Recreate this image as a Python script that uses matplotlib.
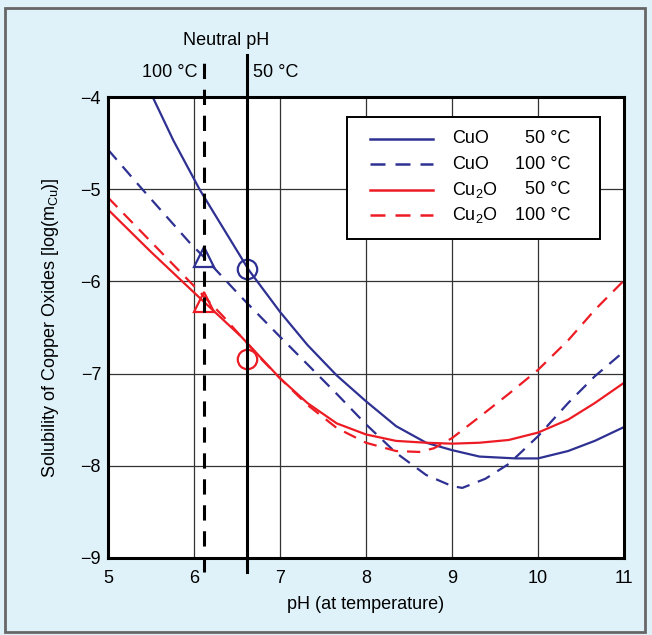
import matplotlib.pyplot as plt
from matplotlib.patches import Rectangle

plt.rcParams['font.family'] = ['Liberation Sans', 'DejaVu Sans']
plt.rcParams['mathtext.fontset'] = 'custom'
plt.rcParams['mathtext.rm'] = 'Liberation Sans'
plt.rcParams['mathtext.it'] = 'Liberation Sans:italic'

# solubility curves, log(m_Cu) vs pH at temperature
cuo_50_ph = [5.52, 5.76, 6.07, 6.64, 7.0, 7.32, 7.66, 8.0, 8.35, 8.7, 9.0, 9.32, 9.74, 10.0, 10.35, 10.66, 11.0]
cuo_50_log = [-4.00, -4.47, -5.01, -5.88, -6.33, -6.69, -7.02, -7.30, -7.57, -7.75, -7.83, -7.90, -7.92, -7.92, -7.84, -7.73, -7.58]

cuo_100_ph = [5.0, 5.38, 5.95, 6.12, 6.55, 7.0, 7.32, 7.66, 8.0, 8.35, 8.7, 9.0, 9.12, 9.39, 9.66, 10.0, 10.35, 10.66, 11.0]
cuo_100_log = [-4.57, -4.98, -5.58, -5.74, -6.17, -6.60, -6.90, -7.22, -7.55, -7.86, -8.10, -8.22, -8.24, -8.14, -7.98, -7.68, -7.32, -7.03, -6.76]

cu2o_50_ph = [5.0, 5.5, 6.0, 6.55, 7.0, 7.32, 7.66, 8.0, 8.35, 8.7, 9.0, 9.32, 9.66, 10.0, 10.35, 10.66, 11.0]
cu2o_50_log = [-5.22, -5.68, -6.12, -6.60, -7.05, -7.32, -7.54, -7.66, -7.73, -7.75, -7.76, -7.75, -7.72, -7.64, -7.50, -7.32, -7.10]

cu2o_100_ph = [5.0, 5.5, 6.0, 6.34, 6.78, 7.0, 7.32, 7.66, 8.0, 8.35, 8.62, 8.79, 9.0, 9.32, 9.66, 10.0, 10.35, 10.66, 11.0]
cu2o_100_log = [-5.09, -5.57, -6.05, -6.38, -6.84, -7.05, -7.34, -7.59, -7.75, -7.84, -7.85, -7.81, -7.70, -7.47, -7.22, -6.96, -6.64, -6.31, -5.99]

# neutral pH
neutral_100 = 6.12
neutral_50 = 6.62

# marked points at neutral pH
tri_ph = [6.12, 6.12]
tri_log = [-5.73, -6.22]
circ_ph = [6.62, 6.62]
circ_log = [-5.87, -6.84]

blue = '#2E3192'
red = '#ED1C24'
bg = '#DFF1F9'

fig = plt.figure(figsize=(6.52, 6.35), dpi=100, facecolor=bg)
fig.patches.append(Rectangle((0.008, 0.004), 0.982, 0.984, transform=fig.transFigure,
                             fill=False, edgecolor='#666666', linewidth=2))
ax = fig.add_axes([0.1656, 0.1213, 0.7914, 0.7259])
ax.set_facecolor('white')

ax.plot(cuo_50_ph, cuo_50_log, color=blue, lw=1.6)
ax.plot(cuo_100_ph, cuo_100_log, color=blue, lw=1.6, dashes=(6, 4))
ax.plot(cu2o_50_ph, cu2o_50_log, color=red, lw=1.6)
ax.plot(cu2o_100_ph, cu2o_100_log, color=red, lw=1.6, dashes=(6, 4))

ax.plot(tri_ph[0], tri_log[0], marker='^', ms=15, mfc='none', mec=blue, mew=1.6)
ax.plot(tri_ph[1], tri_log[1], marker='^', ms=15, mfc='none', mec=red, mew=1.6)
ax.plot(circ_ph[0], circ_log[0], marker='o', ms=14, mfc='none', mec=blue, mew=1.6)
ax.plot(circ_ph[1], circ_log[1], marker='o', ms=14, mfc='none', mec=red, mew=1.6)

ax.axvline(neutral_100, ymin=-0.03, ymax=1.091, color='black', lw=2.2, dashes=(5, 3.5), clip_on=False)
ax.axvline(neutral_50, ymin=-0.03, ymax=1.091, color='black', lw=2.2, clip_on=False)

ax.set_xlim(5, 11)
ax.set_ylim(-9, -4)
ax.set_xticks(range(5, 12))
ax.set_yticks(range(-9, -3))
ax.grid(True, color='#333333', lw=0.9)
ax.set_axisbelow(True)
ax.tick_params(length=0, labelsize=13, pad=5)
ax.tick_params(axis='x', pad=9)
for s in ax.spines.values():
    s.set_linewidth(2.2)

ax.set_xlabel('pH (at temperature)', fontsize=13, labelpad=6)
ax.set_ylabel('Solubility of Copper Oxides [log(m$_\\mathrm{Cu}$)]', fontsize=13, labelpad=14)

ax.text(0.5 * (neutral_100 + neutral_50), 1.123, 'Neutral pH', transform=ax.get_xaxis_transform(),
        ha='center', va='center', fontsize=13)
ax.text(neutral_100 - 0.08, 1.054, '100 °C', transform=ax.get_xaxis_transform(),
        ha='right', va='center', fontsize=13)
ax.text(neutral_50 + 0.07, 1.054, '50 °C', transform=ax.get_xaxis_transform(),
        ha='left', va='center', fontsize=13)

# legend box
ax.add_patch(Rectangle((0.463, 0.692), 0.49, 0.265, transform=ax.transAxes,
                       facecolor='white', edgecolor='black', lw=1.4, zorder=5))
leg_rows = [0.909, 0.854, 0.799, 0.744]
leg_styles = [(blue, None), (blue, (6, 4)), (red, None), (red, (6, 4))]
leg_names = ['CuO', 'CuO', 'Cu$_2$O', 'Cu$_2$O']
leg_temps = ['50 °C', '100 °C', '50 °C', '100 °C']
for yy, (c, d), n, t in zip(leg_rows, leg_styles, leg_names, leg_temps):
    kw = dict(color=c, lw=1.8, transform=ax.transAxes, zorder=6)
    if d:
        kw['dashes'] = d
    ax.plot([0.508, 0.630], [yy, yy], **kw)
    ax.text(0.667, yy, n, transform=ax.transAxes, ha='left', va='center', fontsize=13, zorder=6)
    ax.text(0.897, yy, t, transform=ax.transAxes, ha='right', va='center', fontsize=13, zorder=6)

fig.savefig('out.png', dpi=100, facecolor=bg)
